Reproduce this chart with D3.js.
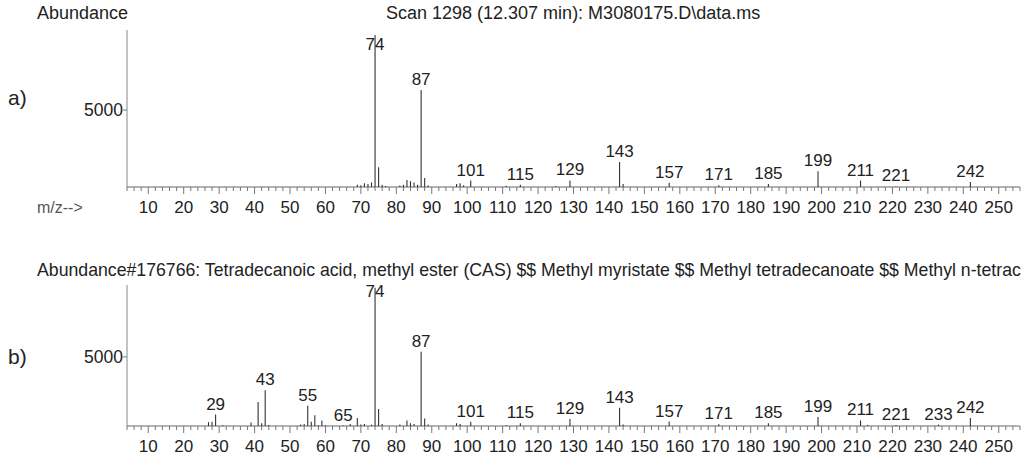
<!DOCTYPE html>
<html>
<head>
<meta charset="utf-8">
<script src="https://cdn.jsdelivr.net/npm/d3@7"></script>
<style>
body { margin: 0; background: #fff; }
svg text { font-family: "Liberation Sans", Arial, sans-serif; fill: #222; }
</style>
</head>
<body>
<svg id="drawing_region"></svg>
<script>
// a) measured scan
const mzA = [69, 70, 71, 72, 73, 74, 75, 76, 77, 81, 82, 83, 84, 85, 86, 87, 88, 89, 97, 98, 99, 101,
             111, 115, 125, 129, 143, 144, 157, 171, 185, 199, 211, 221, 242];
const abA = [150, 120, 250, 200, 300, 9870, 1290, 150, 60, 100, 150, 450, 380, 300, 150, 6300, 590, 100, 200, 250, 120, 420,
             80, 150, 60, 430, 1620, 200, 270, 110, 200, 1020, 420, 40, 330];
const labelsA = [74, 87, 101, 115, 129, 143, 157, 171, 185, 199, 211, 221, 242];

// b) library hit
const mzB = [27, 28, 29, 31, 39, 41, 42, 43, 44, 53, 54, 55, 56, 57, 58, 59, 60, 65, 67, 69, 70, 71, 73, 74, 75, 76,
             81, 83, 84, 85, 87, 88, 89, 97, 98, 101, 111, 115, 129, 143, 144, 157, 171, 185, 199, 211, 213, 221, 233, 242];
const abB = [280, 300, 830, 60, 250, 1740, 200, 2580, 80, 100, 150, 1470, 300, 770, 60, 400, 50, 30, 150, 580, 100, 150, 100, 9999, 1230, 150,
             100, 400, 200, 150, 5370, 550, 100, 200, 150, 300, 60, 200, 500, 1320, 100, 320, 130, 200, 650, 400, 80, 80, 100, 570];
const labelsB = [29, 43, 55, 65, 74, 87, 101, 115, 129, 143, 157, 171, 185, 199, 211, 221, 233, 242];

const titleA = "Scan 1298 (12.307 min): M3080175.D\\data.ms";
// the reference cuts this line at the right edge
const titleB = "Abundance#176766: Tetradecanoic acid, methyl ester (CAS) $$ Methyl myristate $$ Methyl tetradecanoate $$ Methyl n-tetrac";
const yTicks = [5000];
const mzDomain = [4, 256];
const abDomain = [0, 10200];

const svg = d3.select('#drawing_region')
    .attr('width', 1033)
    .attr('height', 463);

class SpectrumPanel {

    constructor( config, mz, ab, labels ) {
        this.config = config;
        this.data = mz.map( (m, i) => ({ mz: m, ab: ab[i] }) );
        this.labels = labels;
        this.init();
    }

    init() {
        let self = this;
        const c = self.config;

        self.xscale = d3.scaleLinear()
            .domain( mzDomain )
            .range( [c.left, c.right] );

        self.yscale = d3.scaleLinear()
            .domain( abDomain )
            .range( [c.bottom, c.top] );

        self.g = svg.append('g');
    }

    render() {
        let self = this;
        const c = self.config;

        // y axis
        self.g.append('line')
            .attr('x1', c.left).attr('x2', c.left)
            .attr('y1', c.top).attr('y2', c.bottom)
            .attr('stroke', '#888').attr('stroke-width', 1);

        self.g.selectAll('.ytick')
            .data( yTicks )
            .join('line')
            .attr('x1', c.left - 4).attr('x2', c.left)
            .attr('y1', d => self.yscale(d)).attr('y2', d => self.yscale(d))
            .attr('stroke', '#777');

        self.g.selectAll('.ylab')
            .data( yTicks )
            .join('text')
            .attr('x', c.left - 4)
            .attr('y', d => self.yscale(d) + 6)
            .attr('text-anchor', 'end')
            .style('font-size', '17.5px')
            .text( d => d );

        // x axis
        self.g.append('line')
            .attr('x1', c.left).attr('x2', c.right)
            .attr('y1', c.bottom).attr('y2', c.bottom)
            .attr('stroke', '#666');

        const minor = d3.range( 4, 257, 2 );
        self.g.selectAll('.xtick')
            .data( minor )
            .join('line')
            .attr('x1', d => self.xscale(d)).attr('x2', d => self.xscale(d))
            .attr('y1', c.bottom)
            .attr('y2', d => c.bottom + (d % 10 === 0 ? 7 : 4))
            .attr('stroke', '#777');

        const major = d3.range( 10, 251, 10 );
        self.g.selectAll('.xlab')
            .data( major )
            .join('text')
            .attr('x', d => self.xscale(d))
            .attr('y', c.bottom + 26)
            .attr('text-anchor', 'middle')
            .style('font-size', '17px')
            .text( d => d );

        // peaks
        self.g.selectAll('.peak')
            .data( self.data )
            .join('line')
            .attr('x1', d => self.xscale(d.mz)).attr('x2', d => self.xscale(d.mz))
            .attr('y1', c.bottom)
            .attr('y2', d => self.yscale(d.ab))
            .attr('stroke', '#333').attr('stroke-width', 1.1);

        const lookup = new Map( self.data.map( d => [d.mz, d.ab] ) );
        self.g.selectAll('.plab')
            .data( self.labels )
            .join('text')
            .attr('x', d => self.xscale(d))
            .attr('y', d => Math.max( self.yscale(lookup.get(d) || 0) - 5, c.top + c.labelClamp ))
            .attr('text-anchor', 'middle')
            .style('font-size', '17px')
            .text( d => d );

        // titles
        self.g.append('text')
            .attr('x', c.titleX).attr('y', c.titleY)
            .style('font-size', c.titleSize)
            .text( c.title );

        self.g.append('text')
            .attr('x', 8).attr('y', self.yscale(yTicks[0]) + c.tagDy)
            .style('font-size', '21px')
            .text( c.tag );
    }
}

svg.append('text')
    .attr('x', 37).attr('y', 19)
    .style('font-size', '18px')
    .text('Abundance');

svg.append('text')
    .attr('x', 37).attr('y', 213)
    .style('font-size', '16px')
    .style('fill', '#555')
    .text('m/z-->');

const panelA = new SpectrumPanel( {
    left: 127, right: 1020, top: 30, bottom: 187, labelClamp: 20,
    title: titleA, titleX: 386, titleY: 19, titleSize: '18px', tag: 'a)', tagDy: -5
}, mzA, abA, labelsA );
panelA.render();

const panelB = new SpectrumPanel( {
    left: 127, right: 1020, top: 285, bottom: 426, labelClamp: 12,
    title: titleB, titleX: 37, titleY: 276, titleSize: '17.7px', tag: 'b)', tagDy: 7
}, mzB, abB, labelsB );
panelB.render();
</script>
</body>
</html>
